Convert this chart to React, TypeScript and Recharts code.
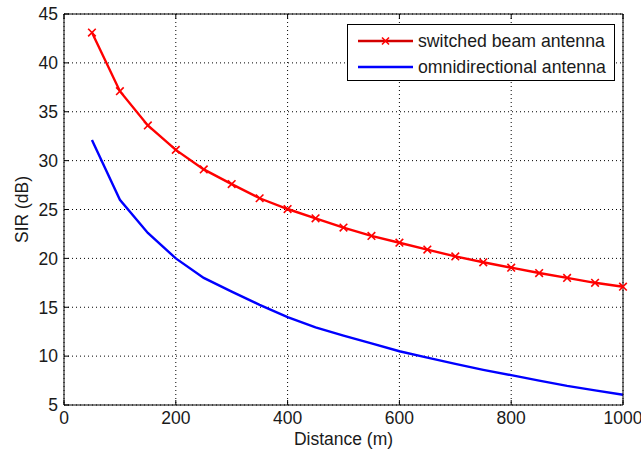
import React from 'react';
import { LineChart, Line, XAxis, YAxis, CartesianGrid } from 'recharts';

const distance = [50, 100, 150, 200, 250, 300, 350, 400, 450, 500, 550, 600, 650, 700, 750, 800, 850, 900, 950, 1000];
const switchedBeam = [43.1, 37.1, 33.6, 31.1, 29.1, 27.6, 26.15, 25.05, 24.1, 23.15, 22.3, 21.6, 20.9, 20.2, 19.6, 19.05, 18.5, 18.0, 17.5, 17.1];
const omni = [32.1, 26.0, 22.6, 20.0, 18.0, 16.6, 15.25, 14.0, 12.95, 12.1, 11.3, 10.5, 9.85, 9.2, 8.6, 8.05, 7.5, 6.95, 6.5, 6.05];

const xTicks = [0, 200, 400, 600, 800, 1000];
const yTicks = [5, 10, 15, 20, 25, 30, 35, 40, 45];

const seriesNames = ['switched beam antenna', 'omnidirectional antenna'];
const RED = '#ff0000';
const BLUE = '#0000ff';

const data = distance.map((d, i) => ({ d, sb: switchedBeam[i], om: omni[i] }));

const FONT = '"Liberation Sans", Arial, sans-serif';
const TXT = '#1a1a1a';
const FS = 17.5;
const TM = 6;
const TL = 5;

const LeftTick = (p: any) => {
  const { x, y, payload } = p;
  const ax = x + TM;
  return (
    <g>
      <line x1={ax} x2={ax + TL} y1={y} y2={y} stroke="#000" />
      <text x={x} y={y} dy="0.36em" textAnchor="end" fontFamily={FONT} fontSize={FS} fill={TXT}>{payload.value}</text>
    </g>
  );
};
const BottomTick = (p: any) => {
  const { x, y, payload } = p;
  const ay = y - TM;
  return (
    <g>
      <line x1={x} x2={x} y1={ay} y2={ay - TL} stroke="#000" />
      <text x={x} y={y} dy="0.76em" textAnchor="middle" fontFamily={FONT} fontSize={FS} fill={TXT}>{payload.value}</text>
    </g>
  );
};
const RightTick = (p: any) => {
  const { x, y } = p;
  return <line x1={x} x2={x - TL} y1={y} y2={y} stroke="#000" />;
};
const TopTick = (p: any) => {
  const { x, y } = p;
  return <line x1={x} x2={x} y1={y} y2={y + TL} stroke="#000" />;
};

const XDot = (p: any) => {
  const { cx, cy, index } = p;
  if (cx == null || cy == null) return <g key={index} />;
  const s = 3.8;
  return (
    <g key={index}>
      <line x1={cx - s} y1={cy - s} x2={cx + s} y2={cy + s} stroke={RED} strokeWidth={1.6} />
      <line x1={cx - s} y1={cy + s} x2={cx + s} y2={cy - s} stroke={RED} strokeWidth={1.6} />
    </g>
  );
};

const YLabel = (p: any) => {
  const vb = p.viewBox || {};
  const cx = vb.x + vb.width - 42;
  const cy = vb.y + vb.height / 2;
  return (
    <text x={cx} y={cy} transform={`rotate(-90 ${cx} ${cy})`} textAnchor="middle" dy="0.36em" fontFamily={FONT} fontSize={FS} fill={TXT}>SIR (dB)</text>
  );
};
const XLabel = (p: any) => {
  const vb = p.viewBox || {};
  const cx = vb.x + vb.width / 2;
  const cy = vb.y + 34;
  return (
    <text x={cx} y={cy} textAnchor="middle" dy="0.36em" fontFamily={FONT} fontSize={FS} fill={TXT}>Distance (m)</text>
  );
};

export default function App() {
  return (
    <div style={{ position: 'absolute', left: 0, top: 0, width: 641, height: 454, background: '#fff' }}>
      <LineChart width={641} height={454} data={data} margin={{ top: 0, right: 0, bottom: 0, left: 0 }}>
        <CartesianGrid stroke="#000" strokeDasharray="1 3" strokeWidth={1} />
        <XAxis dataKey="d" type="number" domain={[0, 1000]} ticks={xTicks} height={49} tickSize={0} tickMargin={TM} tickLine={false} axisLine={{ stroke: '#000' }} tick={BottomTick} label={<XLabel />} interval={0} />
        <XAxis xAxisId="t" orientation="top" dataKey="d" type="number" domain={[0, 1000]} ticks={xTicks} height={14} tickSize={0} tickMargin={0} tickLine={false} axisLine={{ stroke: '#000' }} tick={TopTick} interval={0} />
        <YAxis type="number" domain={[5, 45]} ticks={yTicks} width={64} tickSize={0} tickMargin={TM} tickLine={false} axisLine={{ stroke: '#000' }} tick={LeftTick} label={<YLabel />} interval={0} />
        <YAxis yAxisId="r" orientation="right" type="number" domain={[5, 45]} ticks={yTicks} width={18} tickSize={0} tickMargin={0} tickLine={false} axisLine={{ stroke: '#000' }} tick={RightTick} interval={0} />
        <Line type="linear" dataKey="om" name={seriesNames[1]} stroke={BLUE} strokeWidth={2.4} dot={false} isAnimationActive={false} />
        <Line type="linear" dataKey="sb" name={seriesNames[0]} stroke={RED} strokeWidth={2.4} dot={<XDot />} isAnimationActive={false} />
      </LineChart>
      <div style={{ position: 'absolute', left: 347, top: 24, width: 266, height: 55, border: '1px solid #000', background: '#fff', fontFamily: FONT, fontSize: 17.7, color: TXT }}>
        {[0, 1].map((i) => (
          <div key={i} style={{ position: 'absolute', left: 0, top: i === 0 ? 4 : 30, height: 24, width: 266, display: 'flex', alignItems: 'center' }}>
            <svg width={70} height={24} style={{ display: 'block' }}>
              <line x1={10} x2={65} y1={12} y2={12} stroke={i === 0 ? '#d40000' : BLUE} strokeWidth={2.4} />
              {i === 0 && (
                <g>
                  <line x1={34} y1={8.5} x2={41} y2={15.5} stroke={RED} strokeWidth={1.6} />
                  <line x1={34} y1={15.5} x2={41} y2={8.5} stroke={RED} strokeWidth={1.6} />
                </g>
              )}
            </svg>
            <span style={{ whiteSpace: 'nowrap' }}>{seriesNames[i]}</span>
          </div>
        ))}
      </div>
    </div>
  );
}
